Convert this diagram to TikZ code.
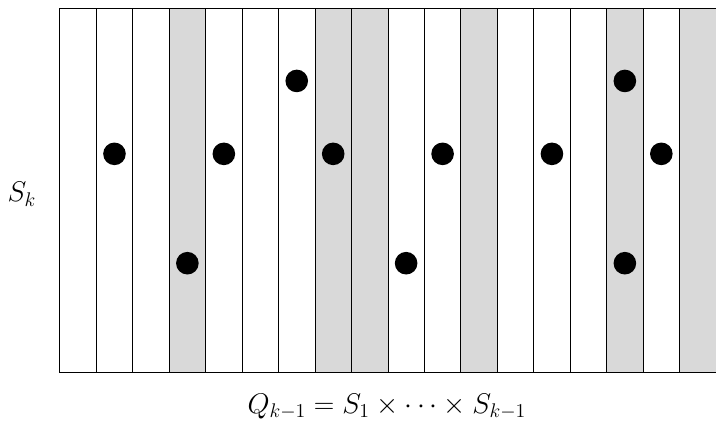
\documentclass[tikz,border=0pt]{standalone}
\usepackage{tikz}
\usetikzlibrary{positioning}
\usepackage{amsmath}
\usepackage{xcolor}
\definecolor{colgray}{HTML}{D9D9D9}

\begin{document}
\begin{tikzpicture}[font=\huge,
    column/.style={draw=black, line width=0.5pt},
    point/.style={circle, fill=black, inner sep=0pt, minimum size=0.62cm},
    label text/.style={anchor=base, scale=1.07}]
        \useasboundingbox (-1.64,-1.32) rectangle (18,10.22);
        % columns of the grid
        \foreach \i in {0,...,17} {
          \draw[column, fill=white] (\i,0) rectangle (\i+1,10);
        }
        \foreach \i in {3,7,8,11,15,17} {
          \draw[column, fill=colgray] (\i,0) rectangle (\i+1,10);
        }
        % points
        \node[point] (p1) at (1.5,6) {};
        \node[point] (p2) at (3.5,3) {};
        \node[point] (p3) at (4.5,6) {};
        \node[point] (p4) at (6.5,8) {};
        \node[point] (p5) at (7.5,6) {};
        \node[point] (p6) at (9.5,3) {};
        \node[point] (p7) at (10.5,6) {};
        \node[point] (p8) at (13.5,6) {};
        \node[point] (p9) at (15.5,8) {};
        \node[point] (p10) at (15.5,3) {};
        \node[point] (p11) at (16.5,6) {};
        % labels
        \node[label text] (sk) at (-1.04,4.68) {$S_k$};
        \node[label text] (qk) at (8.97,-1.12) {$Q_{k-1} = S_1 \times \cdots \times S_{k-1}$};
      \end{tikzpicture}
\end{document}
